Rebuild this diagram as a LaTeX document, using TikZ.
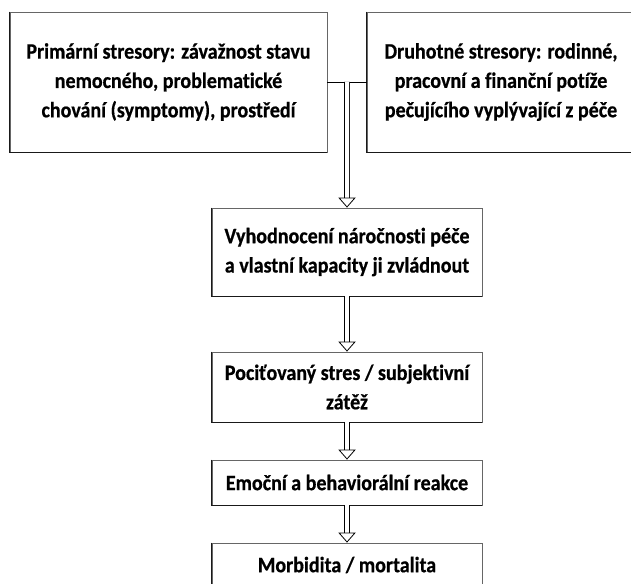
\documentclass[tikz,border=0pt]{standalone}
\usepackage{fontspec}
\newfontfamily\boxfont[FakeStretch=0.91,FakeBold=0.6,Ligatures=NoCommon]{Carlito}
\usepackage{tikz}
\usetikzlibrary{positioning}
\usetikzlibrary{calc}
\usetikzlibrary{arrows.meta}

\begin{document}
\begin{tikzpicture}[x=0.75pt,y=-0.75pt,
  stresbox/.style={draw=black!60,line width=0.6pt,fill=white,inner sep=0pt,align=center,font=\boxfont\bfseries\fontsize{16.5}{22}\selectfont},
  shade/.style={line width=1.2pt,black!90},
  link/.style={line width=0.6pt},
  hollow/.style={line width=0.6pt,double=white,double distance=3pt,-{Triangle[open,width=13pt,length=7.5pt]}}]
\useasboundingbox (0,0) rectangle (631,584);

\node[stresbox,minimum width=237.75pt,minimum height=105pt] (prim) at (168.5,82) {Primární stresory: závažnost stavu\\nemocného, problematické\\chování (symptomy), prostředí};
\node[stresbox,minimum width=201pt,minimum height=105pt] (sec) at (501,82) {Druhotné stresory: rodinné,\\pracovní a finanční potíže\\pečujícího vyplývající z péče};
\node[stresbox,minimum width=202.5pt,minimum height=66pt] (eval) at (347,252) {Vyhodnocení náročnosti péče\\a vlastní kapacity ji zvládnout};
\node[stresbox,minimum width=202.5pt,minimum height=52.5pt] (stress) at (347,387) {Pociťovaný stres / subjektivní\\zátěž};
\node[stresbox,minimum width=202.5pt,minimum height=33.75pt] (react) at (347,482.5) {Emoční a behaviorální reakce};
\node[stresbox,minimum width=202.5pt,minimum height=33pt] (morb) at (347,565) {Morbidita / mortalita};

\foreach \n in {prim,sec,eval,stress,react,morb}
  \draw[shade] (\n.north west) |- (\n.south east);

\coordinate (join) at ($(prim.east)!0.5!(sec.west)$);
\draw[link] (prim.east) -- (sec.west);
\draw[hollow] (join) -- (eval);
\draw[hollow] (eval) -- (stress);
\draw[hollow] (stress) -- (react);
\draw[hollow] (react) -- (morb);
\end{tikzpicture}
\end{document}
